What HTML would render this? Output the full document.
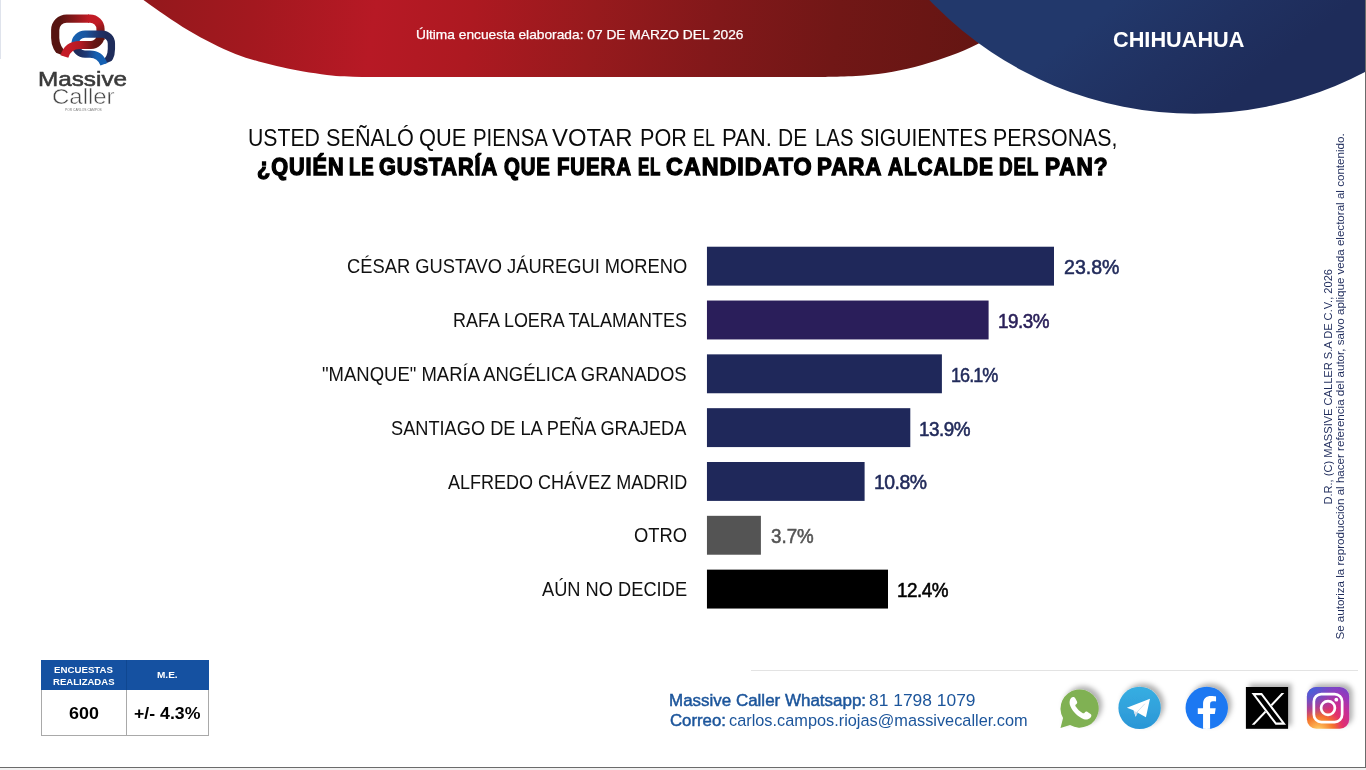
<!DOCTYPE html>
<html lang="es">
<head>
<meta charset="utf-8">
<title>Massive Caller - Chihuahua</title>
<style>
html,body{margin:0;padding:0;}
body{width:1366px;height:770px;overflow:hidden;background:#fff;position:relative;font-family:"Liberation Sans",Arial,sans-serif;}
#page{position:absolute;left:0;top:0;width:1366px;height:770px;overflow:hidden;background:#fff;}
.t{position:absolute;white-space:pre;line-height:1;transform-origin:0 0;font-family:"Liberation Sans",Arial,sans-serif;}
svg{position:absolute;left:0;top:0;overflow:visible;}
.frame-r{position:absolute;left:1364.6px;top:0;width:1.4px;height:768px;background:#6b6b6b;}
.frame-b{position:absolute;left:0;top:766.9px;width:1365px;height:1.1px;background:#6b6b6b;}
.frame-g{position:absolute;left:0;top:768px;width:1366px;height:2px;background:#f1f1f1;}
.frame-l{position:absolute;left:0;top:0;width:1.2px;height:59px;background:#dfe3ec;}
.hr{position:absolute;left:751px;top:669.9px;width:606.5px;height:1.1px;background:#e3e3e3;}
.tbl{position:absolute;left:41.4px;top:660.2px;width:167.6px;height:76.2px;box-sizing:border-box;border:1px solid #a9a9a9;background:#fff;}
.tbl .hd{position:absolute;left:-1px;top:-1px;width:167.6px;height:30.2px;background:#1551a1;}
.tbl .dv{position:absolute;left:83.6px;top:-1px;width:1px;height:76.2px;background:#a9a9a9;}
.tbl .dvh{position:absolute;left:83.6px;top:-1px;width:1px;height:30.2px;background:#0f4791;}
.vt{position:absolute;white-space:pre;line-height:1;font-family:"Liberation Sans",Arial,sans-serif;color:#1f2c5c;}
</style>
</head>
<body>
<div id="page">
<!-- header shapes -->
<svg width="1366" height="130" viewBox="0 0 1366 130">
<defs>
<linearGradient id="gred" gradientUnits="userSpaceOnUse" x1="140" y1="0" x2="1000" y2="120">
<stop offset="0" stop-color="#93181c"/>
<stop offset="0.13" stop-color="#a3181f"/>
<stop offset="0.27" stop-color="#b71925"/>
<stop offset="0.38" stop-color="#ad1921"/>
<stop offset="0.52" stop-color="#971a1d"/>
<stop offset="0.66" stop-color="#82181a"/>
<stop offset="0.8" stop-color="#711716"/>
<stop offset="1" stop-color="#621512"/>
</linearGradient>
<linearGradient id="gblue" gradientUnits="userSpaceOnUse" x1="1120" y1="0" x2="1210" y2="114">
<stop offset="0" stop-color="#22386b"/>
<stop offset="0.55" stop-color="#203161"/>
<stop offset="1" stop-color="#1e2c5a"/>
</linearGradient>
</defs>
<path d="M120.0 -18.0 C123.9 -15.0 136.0 -5.5 143.5 0.0 C151.0 5.5 157.6 10.1 165.1 15.2 C172.6 20.3 180.8 25.8 188.6 30.5 C196.4 35.2 204.2 39.4 212.0 43.3 C219.8 47.2 227.6 50.9 235.4 53.9 C243.2 56.9 251.0 59.3 258.8 61.5 C266.6 63.7 274.9 65.6 282.3 67.3 C289.7 69.0 296.0 70.3 303.4 71.6 C310.8 72.9 320.1 74.1 326.9 74.9 C333.7 75.7 338.5 76.0 344.4 76.3 C350.2 76.6 356.1 76.8 362.0 76.9 C367.9 77.0 377.0 77.0 380.0 77.0 L815 77 C818.2 77.0 825.9 77.0 834.0 76.8 C842.1 76.5 853.7 76.3 863.5 75.5 C873.3 74.7 883.0 73.5 892.8 71.7 C902.5 70.0 912.3 67.7 922.0 65.0 C931.7 62.3 941.7 59.1 951.0 55.6 C960.3 52.1 968.7 48.2 977.7 43.9 C986.7 39.6 996.3 34.8 1005.0 30.0 C1013.7 25.2 1022.2 20.0 1030.0 15.0 C1037.8 10.0 1044.5 5.5 1052.0 0.0 C1059.5 -5.5 1071.2 -15.0 1075.0 -18.0 L1075 -20 L120 -20 Z" fill="url(#gred)"/>
<circle cx="1194.9" cy="-253" r="366.8" fill="url(#gblue)"/>
</svg>
<div class="frame-l"></div>
<!-- logo -->
<svg width="140" height="80" viewBox="0 0 140 80">
<defs>
<linearGradient id="lr1" gradientUnits="userSpaceOnUse" x1="104" y1="36" x2="95" y2="20"><stop offset="0" stop-color="#5e1512"/><stop offset="0.4" stop-color="#8e181a"/><stop offset="0.8" stop-color="#c11b25"/><stop offset="1" stop-color="#c11b25"/></linearGradient>
<linearGradient id="lr2" gradientUnits="userSpaceOnUse" x1="89" y1="0" x2="60" y2="0"><stop offset="0" stop-color="#c11b25"/><stop offset="0.5" stop-color="#8a181a"/><stop offset="1" stop-color="#571411"/></linearGradient>
<linearGradient id="lr3" gradientUnits="userSpaceOnUse" x1="70" y1="0" x2="99" y2="0"><stop offset="0" stop-color="#c41b26"/><stop offset="0.35" stop-color="#b41a23"/><stop offset="0.8" stop-color="#6b1614"/><stop offset="1" stop-color="#5e1512"/></linearGradient>
<linearGradient id="lb1" gradientUnits="userSpaceOnUse" x1="74" y1="0" x2="106" y2="0"><stop offset="0" stop-color="#1660b0"/><stop offset="0.35" stop-color="#1a56a0"/><stop offset="0.8" stop-color="#1f3268"/><stop offset="1" stop-color="#1e2c5b"/></linearGradient>
<linearGradient id="lb2" gradientUnits="userSpaceOnUse" x1="78" y1="0" x2="100" y2="0"><stop offset="0" stop-color="#1e2c5b"/><stop offset="0.4" stop-color="#1d3a78"/><stop offset="0.85" stop-color="#1560b2"/><stop offset="1" stop-color="#1560b2"/></linearGradient>
<clipPath id="lcr"><polygon points="0,0 140,0 140,85.8 0,30.8"/></clipPath>
<clipPath id="lcb"><polygon points="0,0 140,0 140,49.2 0,106.9"/></clipPath>
</defs>
<g fill="none" stroke-linecap="butt" stroke-linejoin="round">
<path d="M100.5 40 L100.5 29 A10.4 10.4 0 0 0 90.1 18.6 L88 18.6" stroke="url(#lr1)" stroke-width="8.2"/>
<g clip-path="url(#lcr)"><path d="M89 18.6 L66.6 18.6 A11.4 11.4 0 0 0 55.2 30 L55.2 38 C55.2 45 57.5 50 64.5 56.5" stroke="url(#lr2)" stroke-width="8.2"/></g>
<path d="M88 45 L91 45 A9.5 9.5 0 0 0 100.5 35.5 L100.5 35" stroke="url(#lr3)" stroke-width="8.2"/>
<g clip-path="url(#lcb)"><path d="M104 63.8 C108.5 60.8 111.4 56 111.4 49 L111.4 43.4 A9.3 9.3 0 0 0 102.1 34.1 L85 34.1 A10 10 0 0 0 75 44.1 L75 44.6" stroke="url(#lb1)" stroke-width="7.3"/></g>
<path d="M75 44.1 A10 10 0 0 0 85 54.1 L90 54.1 C97 54.1 101.5 58 103.9 64.2" stroke="url(#lb2)" stroke-width="7.3"/>
<path d="M64.4 56.4 C66.3 50.5 70.5 45 79.5 45 L89 45" stroke="url(#lr3)" stroke-width="8.2"/>
</g>
</svg>

<!-- bars -->
<svg width="1366" height="770" viewBox="0 0 1366 770">
<rect x="706.95" y="246.72" width="347.05" height="38.9" fill="#1f285a"/>
<rect x="706.95" y="300.54" width="281.65" height="38.9" fill="#2a1e5a"/>
<rect x="706.95" y="354.36" width="234.95" height="38.9" fill="#1f285a"/>
<rect x="706.95" y="408.18" width="203.35" height="38.9" fill="#1f285a"/>
<rect x="706.95" y="462.00" width="157.65" height="38.9" fill="#1f285a"/>
<rect x="706.95" y="515.82" width="53.95" height="38.9" fill="#545454"/>
<rect x="706.95" y="569.64" width="181.05" height="38.9" fill="#000"/>
</svg>

<div class="hr"></div>
<div class="tbl"><div class="hd"></div><div class="dv"></div><div class="dvh"></div></div>
<!-- social icons -->
<svg width="1366" height="770" viewBox="0 0 1366 770">
<defs>
<filter id="sh" x="-30%" y="-30%" width="160%" height="160%"><feDropShadow dx="3.5" dy="-3.3" stdDeviation="2.7" flood-color="#000" flood-opacity="0.3"/></filter>
<linearGradient id="gtg" x1="0" y1="0" x2="0" y2="1"><stop offset="0" stop-color="#37aee2"/><stop offset="1" stop-color="#2b96d6"/></linearGradient>
<radialGradient id="gig" cx="0.27" cy="1.07" r="1.3"><stop offset="0" stop-color="#fdde7e"/><stop offset="0.1" stop-color="#fcb552"/><stop offset="0.28" stop-color="#f4742c"/><stop offset="0.45" stop-color="#e3306a"/><stop offset="0.62" stop-color="#c92d95"/><stop offset="0.8" stop-color="#9a38bb"/><stop offset="1" stop-color="#6a4acb"/></radialGradient>
<radialGradient id="gig2" cx="0.05" cy="0.02" r="0.75"><stop offset="0" stop-color="#3f63dc"/><stop offset="0.35" stop-color="#4a5fd8" stop-opacity="0.75"/><stop offset="1" stop-color="#5a55d2" stop-opacity="0"/></radialGradient>
<clipPath id="cfb"><circle cx="1206.75" cy="707.9" r="21.2"/></clipPath>
</defs>
<!-- whatsapp -->
<g filter="url(#sh)">
<path transform="translate(0.4 0.45)" d="M1060.1 727.6 L1062.66 717.65 A19.1 19.1 0 1 1 1069.65 724.64 Z" fill="#80b153"/>
</g>
<g transform="translate(1050.3 678.4) scale(0.08785)">
<path d="M236 222 C252 208 274 208 284 226 L304 262 C310 276 304 288 290 296 C282 302 284 312 292 324 C310 352 334 376 362 392 C374 400 384 400 390 392 C400 378 412 374 424 382 L458 406 C472 418 470 436 456 448 C436 468 410 474 382 464 C318 440 262 388 230 320 C214 284 216 246 236 222 Z" fill="#fff"/>
</g>
<!-- telegram -->
<g filter="url(#sh)"><circle cx="1139.6" cy="707.9" r="21.2" fill="url(#gtg)"/></g>
<g transform="translate(1050 678) scale(0.08785)">
<polygon points="875,340 1138,236 1092,448 994,392 975,440 950,368" fill="#fff"/>
<polygon points="954,376 975,440 998,396 978,384" fill="#cfdeed"/>
<polygon points="975,440 998,396 988,392" fill="#b4cce2"/>
<path d="M986 393 L1080 293" stroke="#c4d6e8" stroke-width="9" fill="none"/>
</g>
<!-- facebook -->
<g filter="url(#sh)"><circle cx="1206.75" cy="707.9" r="21.2" fill="#1b78f2"/></g>
<g clip-path="url(#cfb)"><g transform="translate(1176 678) scale(0.08785)">
<path d="M308 600 L308 410 L248 410 L248 345 L308 345 L308 295 C308 235 345 205 400 205 C425 205 445 208 456 212 L456 268 C446 266 436 265 420 265 C398 265 388 275 388 300 L388 345 L452 345 L442 410 L388 410 L388 600 Z" fill="#fff"/>
</g></g>
<!-- x -->
<g filter="url(#sh)"><rect x="1245.9" y="687" width="42.2" height="41.8" fill="#000"/></g>
<polygon points="1281.5,693 1284.3,693 1254.5,724.8 1251.7,724.8" fill="#fff"/>
<polygon points="1251.5,693 1262,693 1286,724.8 1275.5,724.8" fill="#000"/>
<path d="M1251.5 693 L1262 693 L1286 724.8 L1275.5 724.8 Z M1255.66 695.2 L1261.16 695.2 L1281.84 722.6 L1276.34 722.6 Z" fill="#fff" fill-rule="evenodd"/>
<!-- instagram -->
<g filter="url(#sh)"><rect x="1306.9" y="687" width="42.3" height="41.7" rx="9.5" ry="9.5" fill="url(#gig)"/></g>
<rect x="1306.9" y="687" width="42.3" height="41.7" rx="9.5" ry="9.5" fill="url(#gig2)"/>
<rect x="1313.85" y="694.05" width="28.3" height="28" rx="7.5" ry="7.5" fill="none" stroke="#fff" stroke-width="2.7"/>
<circle cx="1328" cy="708" r="6.9" fill="none" stroke="#fff" stroke-width="2.7"/>
<circle cx="1336.3" cy="699.7" r="1.9" fill="#fff"/>
</svg>

<div class="texts">
<span class="t" style="left:415.57px;top:27.83px;font-size:13.38px;color:#fff;transform:scaleX(1.0284);-webkit-text-stroke:0.25px #fff;">Última encuesta elaborada: 07 DE MARZO DEL 2026</span>
<span class="t" style="left:1112.54px;top:29.21px;font-size:22.55px;color:#fff;transform:scaleX(0.9630);font-weight:700;">CHIHUAHUA</span>
<span class="t" style="left:247.66px;top:126.32px;font-size:24.44px;color:#0a0a0a;transform:scaleX(0.8677);">USTED</span>
<span class="t" style="left:325.59px;top:126.32px;font-size:24.44px;color:#0a0a0a;transform:scaleX(0.8858);">SEÑALÓ</span>
<span class="t" style="left:418.88px;top:126.32px;font-size:24.44px;color:#0a0a0a;transform:scaleX(0.8926);">QUE</span>
<span class="t" style="left:472.83px;top:126.32px;font-size:24.44px;color:#0a0a0a;transform:scaleX(0.8354);">PIENSA</span>
<span class="t" style="left:552.46px;top:126.32px;font-size:24.44px;color:#0a0a0a;transform:scaleX(0.9765);">VOTAR</span>
<span class="t" style="left:639.83px;top:126.32px;font-size:24.44px;color:#0a0a0a;transform:scaleX(0.8844);">POR</span>
<span class="t" style="left:692.94px;top:126.32px;font-size:24.44px;color:#0a0a0a;transform:scaleX(0.7296);">EL</span>
<span class="t" style="left:722.19px;top:126.32px;font-size:24.44px;color:#0a0a0a;transform:scaleX(0.9039);">PAN.</span>
<span class="t" style="left:778.28px;top:126.32px;font-size:24.44px;color:#0a0a0a;transform:scaleX(0.8585);">DE</span>
<span class="t" style="left:814.53px;top:126.32px;font-size:24.44px;color:#0a0a0a;transform:scaleX(0.8326);">LAS</span>
<span class="t" style="left:859.62px;top:126.32px;font-size:24.44px;color:#0a0a0a;transform:scaleX(0.8605);">SIGUIENTES</span>
<span class="t" style="left:993.45px;top:126.32px;font-size:24.44px;color:#0a0a0a;transform:scaleX(0.8729);">PERSONAS,</span>
<span class="t" style="left:256.50px;top:155.71px;font-size:23.27px;color:#000;transform:scaleX(0.9315);font-weight:700;-webkit-text-stroke:1.3px #000;letter-spacing:1.0px;">¿QUIÉN</span>
<span class="t" style="left:348.50px;top:155.71px;font-size:23.27px;color:#000;transform:scaleX(0.8034);font-weight:700;-webkit-text-stroke:1.3px #000;letter-spacing:1.0px;">LE</span>
<span class="t" style="left:379.37px;top:155.71px;font-size:23.27px;color:#000;transform:scaleX(0.9318);font-weight:700;-webkit-text-stroke:1.3px #000;letter-spacing:1.0px;">GUSTARÍA</span>
<span class="t" style="left:504.08px;top:155.71px;font-size:23.27px;color:#000;transform:scaleX(0.8769);font-weight:700;-webkit-text-stroke:1.3px #000;letter-spacing:1.0px;">QUE</span>
<span class="t" style="left:557.12px;top:155.71px;font-size:23.27px;color:#000;transform:scaleX(0.8781);font-weight:700;-webkit-text-stroke:1.3px #000;letter-spacing:1.0px;">FUERA</span>
<span class="t" style="left:638.07px;top:155.71px;font-size:23.27px;color:#000;transform:scaleX(0.7261);font-weight:700;-webkit-text-stroke:1.3px #000;letter-spacing:1.0px;">EL</span>
<span class="t" style="left:666.05px;top:155.71px;font-size:23.27px;color:#000;transform:scaleX(1.0010);font-weight:700;-webkit-text-stroke:1.3px #000;letter-spacing:1.0px;">CANDIDATO</span>
<span class="t" style="left:816.74px;top:155.71px;font-size:23.27px;color:#000;transform:scaleX(0.9579);font-weight:700;-webkit-text-stroke:1.3px #000;letter-spacing:1.0px;">PARA</span>
<span class="t" style="left:887.52px;top:155.71px;font-size:23.27px;color:#000;transform:scaleX(0.8955);font-weight:700;-webkit-text-stroke:1.3px #000;letter-spacing:1.0px;">ALCALDE</span>
<span class="t" style="left:999.19px;top:155.71px;font-size:23.27px;color:#000;transform:scaleX(0.8084);font-weight:700;-webkit-text-stroke:1.3px #000;letter-spacing:1.0px;">DEL</span>
<span class="t" style="left:1045.13px;top:155.71px;font-size:23.27px;color:#000;transform:scaleX(0.9698);font-weight:700;-webkit-text-stroke:1.3px #000;letter-spacing:1.0px;">PAN?</span>
<span class="t" style="left:346.96px;top:256.94px;font-size:19.49px;color:#111;transform:scaleX(0.9400);">CÉSAR GUSTAVO JÁUREGUI MORENO</span>
<span class="t" style="left:453.32px;top:310.73px;font-size:19.49px;color:#111;transform:scaleX(0.9218);">RAFA LOERA TALAMANTES</span>
<span class="t" style="left:322.49px;top:364.52px;font-size:19.49px;color:#111;transform:scaleX(0.9493);">"MANQUE" MARÍA ANGÉLICA GRANADOS</span>
<span class="t" style="left:391.07px;top:419.31px;font-size:19.49px;color:#111;transform:scaleX(0.9343);">SANTIAGO DE LA PEÑA GRAJEDA</span>
<span class="t" style="left:448.00px;top:473.10px;font-size:19.49px;color:#111;transform:scaleX(0.9245);">ALFREDO CHÁVEZ MADRID</span>
<span class="t" style="left:634.16px;top:525.89px;font-size:19.49px;color:#111;transform:scaleX(0.9438);">OTRO</span>
<span class="t" style="left:542.00px;top:579.68px;font-size:19.49px;color:#111;transform:scaleX(0.9370);">AÚN NO DECIDE</span>
<span class="t" style="left:1063.99px;top:256.80px;font-size:20.78px;color:#222b5b;transform:scaleX(0.9420);-webkit-text-stroke:0.55px #222b5b;">23.8%</span>
<span class="t" style="left:998.16px;top:310.59px;font-size:20.78px;color:#2a2059;transform:scaleX(0.9091);-webkit-text-stroke:0.55px #2a2059;letter-spacing:-0.55px;">19.3%</span>
<span class="t" style="left:951.01px;top:365.38px;font-size:20.78px;color:#222b5b;transform:scaleX(0.8682);-webkit-text-stroke:0.55px #222b5b;letter-spacing:-1.1px;">16.1%</span>
<span class="t" style="left:918.86px;top:419.17px;font-size:20.78px;color:#222b5b;transform:scaleX(0.9091);-webkit-text-stroke:0.55px #222b5b;letter-spacing:-0.55px;">13.9%</span>
<span class="t" style="left:873.73px;top:471.96px;font-size:20.78px;color:#222b5b;transform:scaleX(0.9345);-webkit-text-stroke:0.55px #222b5b;letter-spacing:-0.55px;">10.8%</span>
<span class="t" style="left:770.95px;top:525.75px;font-size:20.78px;color:#555;transform:scaleX(0.9032);-webkit-text-stroke:0.55px #555;">3.7%</span>
<span class="t" style="left:896.86px;top:579.54px;font-size:20.78px;color:#000;transform:scaleX(0.9091);-webkit-text-stroke:0.55px #000;letter-spacing:-0.55px;">12.4%</span>
<span class="t" style="left:53.86px;top:666.21px;font-size:9.02px;color:#fff;transform:scaleX(1.0741);font-weight:700;">ENCUESTAS</span>
<span class="t" style="left:52.56px;top:678.13px;font-size:8.87px;color:#fff;transform:scaleX(1.0773);font-weight:700;">REALIZADAS</span>
<span class="t" style="left:156.94px;top:670.81px;font-size:9.02px;color:#fff;transform:scaleX(1.1143);font-weight:700;">M.E.</span>
<span class="t" style="left:68.82px;top:704.68px;font-size:17.24px;color:#000;transform:scaleX(1.0385);font-weight:700;">600</span>
<span class="t" style="left:134.03px;top:704.68px;font-size:17.24px;color:#000;transform:scaleX(1.0268);font-weight:700;">+/- 4.3%</span>
<span class="t" style="left:669.42px;top:693.27px;font-size:15.71px;color:#1c559b;transform:scaleX(1.0802);-webkit-text-stroke:0.45px #1c559b;">Massive Caller Whatsapp:</span>
<span class="t" style="left:869.37px;top:693.27px;font-size:15.71px;color:#1c559b;transform:scaleX(1.1090);">81 1798 1079</span>
<span class="t" style="left:669.97px;top:713.47px;font-size:15.71px;color:#1c559b;transform:scaleX(1.0680);-webkit-text-stroke:0.45px #1c559b;">Correo:</span>
<span class="t" style="left:728.82px;top:713.47px;font-size:15.71px;color:#1c559b;transform:scaleX(1.0392);">carlos.campos.riojas@massivecaller.com</span>
<span class="t" style="left:38.46px;top:69.46px;font-size:20.95px;color:#3a3a3a;transform:scaleX(1.1597);-webkit-text-stroke:0.55px #3a3a3a;">Massive</span>
<span class="t" style="left:51.85px;top:86.18px;font-size:22.11px;color:#444;transform:scaleX(1.0839);-webkit-text-stroke:0.5px #fff;">Caller</span>
<span class="t" style="left:64.74px;top:108.63px;font-size:3.2px;color:#777;transform:scaleX(1.0298);">POR CARLOS CAMPOS</span>
</div>
<span class="vt" style="left:1333.40px;top:494.97px;font-size:11.4px;transform-origin:0 9.60px;transform:rotate(-90deg) scaleX(0.9734);">D.R., (C) MASSIVE CALLER S.A DE C.V., 2026</span>
<span class="vt" style="left:1344.60px;top:629.76px;font-size:11.4px;transform-origin:0 9.60px;transform:rotate(-90deg) scaleX(1.0171);">Se autoriza la reproducción al hacer referencia del autor, salvo aplique veda electoral al contenido.</span>

<div class="frame-r"></div><div class="frame-b"></div><div class="frame-g"></div>
</div>
</body>
</html>
